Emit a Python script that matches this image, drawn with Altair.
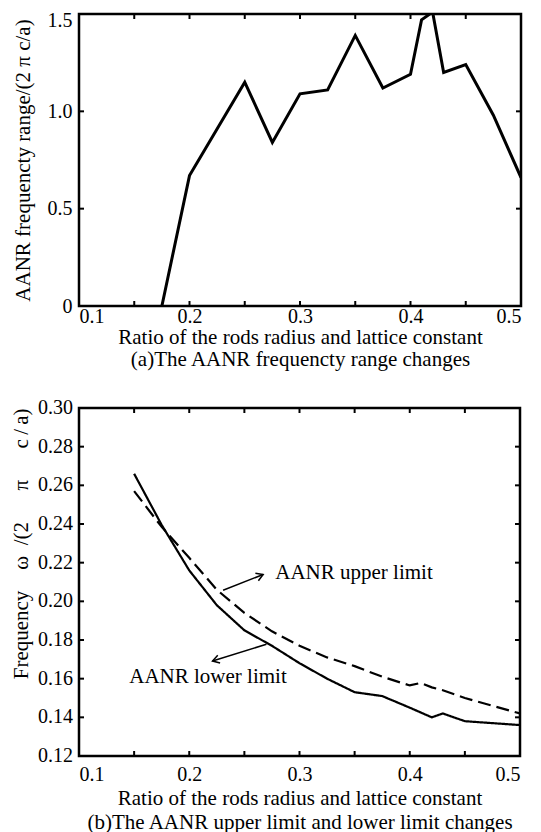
import altair as alt
import pandas as pd

FONT = "Liberation Serif"

# ---------------- panel (a): AANR frequency range ----------------
ratio_a = [0.175, 0.2, 0.25, 0.275, 0.3, 0.325, 0.35, 0.375, 0.4, 0.41, 0.42, 0.43, 0.45, 0.475, 0.5]
range_a = [0.0, 0.67, 1.15, 0.84, 1.09, 1.11, 1.39, 1.12, 1.19, 1.47, 1.51, 1.20, 1.24, 0.98, 0.66]

# ---------------- panel (b): AANR upper / lower limits ----------------
ratio_b = [0.15, 0.175, 0.2, 0.225, 0.25, 0.275, 0.3, 0.325, 0.35, 0.375, 0.4, 0.41, 0.42, 0.43, 0.45, 0.475, 0.5]
lower_b = [0.266, 0.2395, 0.216, 0.198, 0.185, 0.177, 0.168, 0.160, 0.153, 0.151, 0.145, 0.1425, 0.140, 0.142, 0.138, 0.137, 0.136]
upper_b = [0.257, 0.2385, 0.2225, 0.206, 0.194, 0.1845, 0.177, 0.171, 0.1665, 0.161, 0.1565, 0.1578, 0.1555, 0.154, 0.150, 0.146, 0.142]

# ---------------- axes ----------------
x_labels = [0.1, 0.2, 0.3, 0.4, 0.5]
x_ticks = [0.15, 0.2, 0.25, 0.3, 0.35, 0.4, 0.45]
y_labels_a = [0, 0.5, 1.0, 1.5]
y_ticks_a = [0.5, 1.0]
y_labels_b = [0.12, 0.14, 0.16, 0.18, 0.20, 0.22, 0.24, 0.26, 0.28, 0.30]
y_ticks_b = [0.14, 0.16, 0.18, 0.20, 0.22, 0.24, 0.26, 0.28]

# ---------------- annotations (panel b) ----------------
ann_text = ["AANR upper limit", "AANR lower limit"]
ann_x = [0.278, 0.1456]
ann_y = [0.2145, 0.1607]
arrow_x1 = [0.2307, 0.270]
arrow_y1 = [0.2057, 0.1778]
arrow_x2 = [0.267, 0.2211]
arrow_y2 = [0.2139, 0.1691]
arrow_angle = [338, 163]

WA, HA = 442, 292
WB, HB = 441, 348
TICK = 5
SP = "\u2002"


def tick_layers(xvals, yvals, xscale, yscale, W, H):
    dfx = pd.DataFrame({"r": xvals})
    dfy = pd.DataFrame({"v": yvals})
    base_x = alt.Chart(dfx).mark_rule(color="black", strokeWidth=2)
    base_y = alt.Chart(dfy).mark_rule(color="black", strokeWidth=2)
    xe = alt.X("r:Q", scale=xscale)
    ye = alt.Y("v:Q", scale=yscale)
    return [
        base_x.encode(x=xe, y=alt.value(H), y2=alt.value(H - TICK)),
        base_x.encode(x=xe, y=alt.value(0), y2=alt.value(TICK)),
        base_y.encode(y=ye, x=alt.value(0), x2=alt.value(TICK)),
        base_y.encode(y=ye, x=alt.value(W), x2=alt.value(W - TICK)),
    ]


def x_axis(caption, label_pad, title_pad, line_h):
    return alt.Axis(
        values=x_labels, format=".1f", ticks=False, domain=False, grid=False,
        labelFont=FONT, labelFontSize=20, labelPadding=label_pad, labelColor="black",
        title=["Ratio of the rods radius and lattice constant", caption],
        titleFont=FONT, titleFontSize=21, titleFontWeight="normal", titleColor="black",
        titlePadding=title_pad, titleLineHeight=line_h,
    )


# ---- panel (a)
xs_a = alt.Scale(domain=[0.1, 0.5], nice=False, zero=False)
ys_a = alt.Scale(domain=[0, 1.5], nice=False, zero=False)
df_a = pd.DataFrame({"r": ratio_a, "v": range_a})
line_a = alt.Chart(df_a).mark_line(color="black", strokeWidth=3, clip=True).encode(
    x=alt.X("r:Q", scale=xs_a, axis=x_axis("(a)The AANR frequencty range changes", 0, 0, 22)),
    y=alt.Y(
        "v:Q", scale=ys_a,
        axis=alt.Axis(
            values=y_labels_a, ticks=False, domain=False, grid=False, labelOverlap=False,
            labelExpr="datum.value == 0 ? '0' : format(datum.value, '.1f')",
            labelFont=FONT, labelFontSize=20, labelPadding=7, labelColor="black",
            labelOffset={"condition": {"test": "datum.value == 1.5", "value": 6}, "value": 0},
            title="AANR frequencty range/(2 π c/a)",
            titleFont=FONT, titleFontSize=21, titleFontWeight="normal", titleColor="black",
            titlePadding=14,
        ),
    ),
)
panel_a = alt.layer(line_a, *tick_layers(x_ticks, y_ticks_a, xs_a, ys_a, WA, HA)).properties(
    width=WA, height=HA
)

# ---- panel (b)
xs_b = alt.Scale(domain=[0.1, 0.5], nice=False, zero=False)
ys_b = alt.Scale(domain=[0.12, 0.30], nice=False, zero=False)
df_b = pd.DataFrame({
    "r": ratio_b * 2,
    "v": lower_b + upper_b,
    "s": ["lower"] * len(ratio_b) + ["upper"] * len(ratio_b),
})
line_b = alt.Chart(df_b).mark_line(color="black", strokeWidth=2.2, clip=True).encode(
    x=alt.X("r:Q", scale=xs_b,
            axis=x_axis("(b)The AANR upper limit and lower limit changes", 8, 3, 24)),
    y=alt.Y(
        "v:Q", scale=ys_b,
        axis=alt.Axis(
            values=y_labels_b, ticks=False, domain=False, grid=False, labels=False,
            title="Frequency" + SP + SP + "ω" + SP + "/(2" + SP + SP + SP + "π" + SP + SP + SP + "c\u2009/\u2009a)",
            titleFont=FONT, titleFontSize=21, titleFontWeight="normal", titleColor="black",
            titlePadding=48, titleAnchor="end",
        ),
    ),
    strokeDash=alt.StrokeDash(
        "s:N",
        scale=alt.Scale(domain=["lower", "upper"], range=[[1, 0], [13, 6]]),
        legend=None,
    ),
    detail="s:N",
)

# y tick labels of panel (b), drawn as text beside the axis
df_ylab_b = pd.DataFrame({"v": y_labels_b})
ylab_b = alt.Chart(df_ylab_b).mark_text(
    align="right", baseline="middle", font=FONT, fontSize=20, color="black"
).encode(
    y=alt.Y("v:Q", scale=ys_b),
    x=alt.value(-6),
    text=alt.Text("v:Q", format=".2f"),
)

df_ann = pd.DataFrame({"r": ann_x, "v": ann_y, "t": ann_text})
text_b = alt.Chart(df_ann).mark_text(
    align="left", baseline="middle", font=FONT, fontSize=21, color="black"
).encode(x=alt.X("r:Q", scale=xs_b), y=alt.Y("v:Q", scale=ys_b), text="t:N")

df_arr = pd.DataFrame({"r": arrow_x1, "v": arrow_y1, "r2": arrow_x2, "v2": arrow_y2, "a": arrow_angle})
arrow_lines = alt.Chart(df_arr).mark_rule(color="black", strokeWidth=1.5).encode(
    x=alt.X("r:Q", scale=xs_b), y=alt.Y("v:Q", scale=ys_b),
    x2="r2:Q", y2="v2:Q",
)
arrow_heads = alt.Chart(df_arr).mark_point(
    shape="M -1 -0.6 L 0 0 L -1 0.6", filled=False, color="black", strokeWidth=1.5, size=180, opacity=1
).encode(
    x=alt.X("r2:Q", scale=xs_b), y=alt.Y("v2:Q", scale=ys_b),
    angle=alt.Angle("a:Q", scale=None),
)

panel_b = alt.layer(
    line_b, ylab_b, text_b, arrow_lines, arrow_heads,
    *tick_layers(x_ticks, y_ticks_b, xs_b, ys_b, WB, HB)
).properties(width=WB, height=HB)

chart = (
    alt.concat(panel_a, panel_b, columns=1, spacing=25, align="none")
    .properties(padding={"left": 0, "top": 0, "right": 5, "bottom": 0})
    .configure(font=FONT)
    .configure_view(stroke="black", strokeWidth=2.5)
)

chart.save("out.html", embed_options={"renderer": "svg", "actions": False})
